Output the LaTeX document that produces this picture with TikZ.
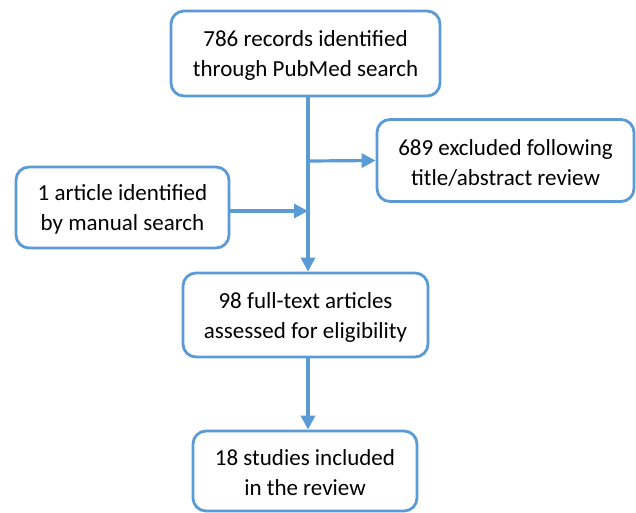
\documentclass[tikz,border=0pt]{standalone}
\usepackage{fontspec}
\setmainfont{Carlito}
\usetikzlibrary{arrows.meta}
\definecolor{lineblue}{HTML}{5B9BD5}
\begin{document}
\begin{tikzpicture}[x=1pt,y=-1pt,
  box/.style={draw=lineblue, line width=2.8pt, rounded corners=13pt, fill=white, align=center, font=\fontsize{23}{30}\selectfont, inner sep=0pt},
  conn/.style={draw=lineblue, line width=3.2pt},
  arr/.style={conn, -{Triangle[length=14pt,width=14pt]}},
  txt/.style={align=center, font=\fontsize{23}{30}\selectfont, inner sep=0pt}]
\useasboundingbox (0,0) rectangle (636,512);
\node[box, minimum width=269pt, minimum height=85pt] (a) at (305.5,53.5) {};
\node[txt] (at) at (305.5,55.5) {786 records identified\\through PubMed search};
\node[box, minimum width=257pt, minimum height=82pt] (b) at (505.5,160.5) {};
\node[txt] (bt) at (505.5,162.5) {689 excluded following\\title/abstract review};
\node[box, minimum width=213pt, minimum height=81pt] (c) at (122.5,207.5) {};
\node[txt] (ct) at (122.5,209.5) {1 article identified\\by manual search};
\node[box, minimum width=245pt, minimum height=84pt] (d) at (305.5,315) {};
\node[txt] (dt) at (305.5,317) {98 full-text articles\\assessed for eligibility};
\node[box, minimum width=224pt, minimum height=80pt] (e) at (305,471) {};
\node[txt] (et) at (305,473) {18 studies included\\in the review};
\coordinate (j1) at (308,161);
\coordinate (j2) at (308,211);
\draw[arr] (a.south -| j1) -- (d.north -| j1);
\draw[arr] (j1) -- (b.west);
\draw[arr] (c.east |- j2) -- (j2);
\draw[arr] (d.south -| j1) -- (e.north -| j1);
\end{tikzpicture}
\end{document}
